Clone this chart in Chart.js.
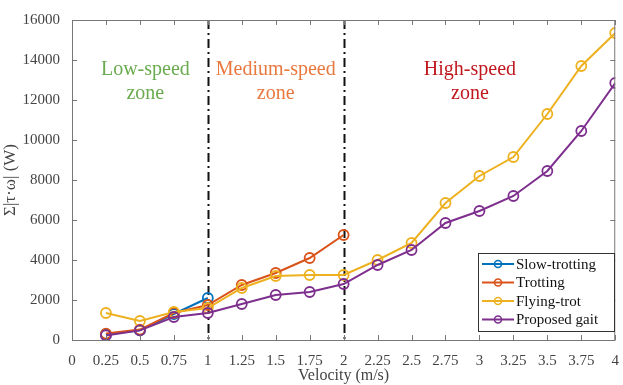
<!DOCTYPE html>
<html>
<head>
<meta charset="utf-8">
<script src="https://cdn.jsdelivr.net/npm/chart.js@4.4.1/dist/chart.umd.min.js"></script>
<style>
  html, body { margin: 0; padding: 0; background: #fff; }
  #wrap { width: 623px; height: 385px; }
</style>
</head>
<body>
<div id="wrap"><canvas id="c" width="623" height="385"></canvas></div>
<script>
// velocities (m/s)
const velLow = [0.25, 0.5, 0.75, 1];
const velMid = [0.25, 0.5, 0.75, 1, 1.25, 1.5, 1.75, 2];
const velAll = [0.25, 0.5, 0.75, 1, 1.25, 1.5, 1.75, 2, 2.25, 2.5, 2.75, 3, 3.25, 3.5, 3.75, 4];

// power sum values (W)
const slowTrotting = [280, 480, 1300, 2100];
const trotting = [320, 520, 1350, 1750, 2750, 3350, 4100, 5250];
const flyingTrot = [1350, 950, 1400, 1600, 2600, 3200, 3250, 3250, 4000, 4850, 6850, 8200, 9150, 11300, 13700, 15350];
const proposedGait = [230, 480, 1150, 1350, 1800, 2250, 2400, 2800, 3750, 4500, 5850, 6450, 7200, 8450, 10450, 12850];

const xTicks = [0, 0.25, 0.5, 0.75, 1, 1.25, 1.5, 1.75, 2, 2.25, 2.5, 2.75, 3, 3.25, 3.5, 3.75, 4];
const yTicks = [0, 2000, 4000, 6000, 8000, 10000, 12000, 14000, 16000];
const zoneLines = [1, 2];
const zoneLabels = [
  { x: 0.54, lines: ['Low-speed', 'zone'], color: '#6aab4f' },
  { x: 1.5, lines: ['Medium-speed', 'zone'], color: '#e8783e' },
  { x: 2.93, lines: ['High-speed', 'zone'], color: '#c0181f' }
];

const serif = '"Liberation Serif", "DejaVu Serif", serif';

function pts(xs, ys) {
  return xs.map((x, i) => ({ x, y: ys[i] }));
}

// order: later series are drawn on top (like the original plot)
function series(label, xs, ys, color, order) {
  return {
    label,
    order,
    data: pts(xs, ys),
    borderColor: color,
    backgroundColor: 'rgba(0,0,0,0)',
    pointBorderColor: color,
    pointBackgroundColor: 'rgba(0,0,0,0)',
    pointRadius: 5,
    pointBorderWidth: 1.8,
    borderWidth: 2,
    tension: 0
  };
}

const datasets = [
  series('Slow-trotting', velLow, slowTrotting, '#0072BD', 4),
  series('Trotting', velMid, trotting, '#D95319', 3),
  series('Flying-trot', velAll, flyingTrot, '#EDB120', 2),
  series('Proposed gait', velAll, proposedGait, '#7E2F8E', 1)
];

// frame, inward ticks, zone lines, zone text, legend
const decor = {
  id: 'decor',
  beforeDatasetsDraw(chart) {
    const { ctx, chartArea: a, scales } = chart;
    const xs = scales.x, ys = scales.y;
    ctx.save();
    // zone dividers
    ctx.strokeStyle = '#111';
    ctx.lineWidth = 2;
    ctx.setLineDash([9, 4, 2, 4]);
    zoneLines.forEach(v => {
      const px = Math.round(xs.getPixelForValue(v)) + 0.5;
      ctx.beginPath();
      ctx.moveTo(px, a.top);
      ctx.lineTo(px, a.bottom);
      ctx.stroke();
    });
    ctx.setLineDash([]);
    // zone text
    ctx.font = '20px ' + serif;
    ctx.textAlign = 'center';
    ctx.textBaseline = 'middle';
    zoneLabels.forEach(z => {
      ctx.fillStyle = z.color;
      const px = xs.getPixelForValue(z.x);
      z.lines.forEach((t, i) => ctx.fillText(t, px, ys.getPixelForValue(13500) + i * 24));
    });
    ctx.restore();
  },
  afterDatasetsDraw(chart) {
    const { ctx, chartArea: a, scales } = chart;
    const xs = scales.x, ys = scales.y;
    ctx.save();
    ctx.strokeStyle = '#777';
    ctx.lineWidth = 1;
    ctx.strokeRect(a.left + 0.5, a.top + 0.5, a.right - a.left - 1, a.bottom - a.top);
    const tl = 5;
    ctx.beginPath();
    xTicks.forEach(v => {
      const px = Math.round(xs.getPixelForValue(v)) + 0.5;
      ctx.moveTo(px, a.bottom); ctx.lineTo(px, a.bottom - tl);
      ctx.moveTo(px, a.top); ctx.lineTo(px, a.top + tl);
    });
    yTicks.forEach(v => {
      const py = Math.round(ys.getPixelForValue(v)) + 0.5;
      ctx.moveTo(a.left, py); ctx.lineTo(a.left + tl, py);
      ctx.moveTo(a.right, py); ctx.lineTo(a.right - tl, py);
    });
    ctx.stroke();

    // legend box
    const lx = 478, ly = 253, lw = 136, lh = 78;
    ctx.fillStyle = '#fff';
    ctx.fillRect(lx, ly, lw, lh);
    ctx.strokeStyle = '#333';
    ctx.strokeRect(lx + 0.5, ly + 0.5, lw, lh);
    ctx.font = '15px ' + serif;
    ctx.textAlign = 'left';
    ctx.textBaseline = 'middle';
    chart.data.datasets.forEach((d, i) => {
      const y = ly + 11 + i * 18.5;
      ctx.strokeStyle = d.borderColor;
      ctx.lineWidth = 2;
      ctx.beginPath();
      ctx.moveTo(lx + 4, y); ctx.lineTo(lx + 36, y);
      ctx.stroke();
      ctx.beginPath();
      ctx.arc(lx + 20, y, 3.5, 0, Math.PI * 2);
      ctx.lineWidth = 1.6;
      ctx.stroke();
      ctx.fillStyle = '#111';
      ctx.fillText(d.label, lx + 38, y + 1);
    });
    ctx.restore();
  }
};

new Chart(document.getElementById('c'), {
  type: 'line',
  data: { datasets },
  options: {
    responsive: false,
    animation: false,
    layout: { padding: { left: 0, right: 1, top: 20, bottom: 0 } },
    plugins: { legend: { display: false }, tooltip: { enabled: false } },
    scales: {
      x: {
        type: 'linear',
        min: 0, max: 4,
        afterBuildTicks(s) { s.ticks = xTicks.map(v => ({ value: v })); },
        afterFit(s) { s.height = 45; },
        grid: { display: false },
        border: { display: false },
        ticks: {
          color: '#444', padding: 4, maxRotation: 0, autoSkip: false,
          font: { family: serif, size: 15 },
          callback: v => String(v)
        },
        title: {
          display: true, text: 'Velocity (m/s)', color: '#444',
          font: { family: serif, size: 16 }, padding: { top: 0, bottom: 0 }
        }
      },
      y: {
        min: 0, max: 16000,
        afterBuildTicks(s) { s.ticks = yTicks.map(v => ({ value: v })); },
        afterFit(s) { s.width = 72; },
        grid: { display: false },
        border: { display: false },
        ticks: {
          color: '#444', padding: 4,
          font: { family: serif, size: 15 },
          callback: v => String(v)
        },
        title: {
          display: true, text: 'Σ|τ·ω| (W)', color: '#444',
          font: { family: serif, size: 17 }, padding: { top: 0, bottom: 0 }
        }
      }
    }
  },
  plugins: [decor]
});
</script>
</body>
</html>
